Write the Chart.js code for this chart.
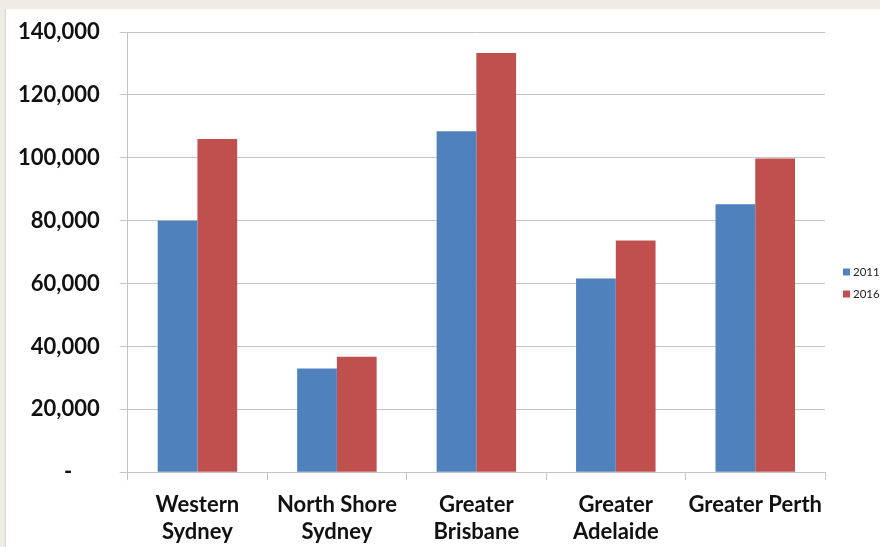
<!DOCTYPE html>
<html lang="en">

<head>
    <meta charset="UTF-8">
    <title>Population 2011 vs 2016</title>
    <style>
        body {
            margin: 0;
            padding: 0;
            width: 880px;
            height: 547px;
            background-color: #eeece4;
            overflow: hidden;
        }

        .chart-box {
            position: absolute;
            left: 5px;
            top: 9px;
            width: 875px;
            height: 538px;
            background-color: #ffffff;
            border-left: 1px solid #d6d4cc;
            box-sizing: border-box;
        }
    </style>
</head>

<body>
    <div class="chart-box">
        <canvas id="chart"></canvas>
    </div>

    <script src="https://cdn.jsdelivr.net/npm/chart.js"></script>
    <script>
        // Regions and counts per census year
        const regioes = [
            ['Western', 'Sydney'],
            ['North Shore', 'Sydney'],
            ['Greater', 'Brisbane'],
            ['Greater', 'Adelaide'],
            'Greater Perth'
        ];
        const valores2011 = [80000, 33000, 108400, 61600, 85200];
        const valores2016 = [106000, 36700, 133300, 73700, 99800];

        const fonteEixo = { family: 'Lato', size: 22, weight: 'bold', lineHeight: 1.2 };

        // Small legend drawn to the right of the plot area
        const legendaLateral = {
            id: 'legendaLateral',
            afterDraw(chart) {
                const ctx = chart.ctx;
                const area = chart.chartArea;
                const x = area.right + 18;
                const meio = chart.height / 2 + 5;
                ctx.save();
                ctx.font = '11.5px Lato';
                ctx.textBaseline = 'middle';
                chart.data.datasets.forEach((ds, i) => {
                    const y = meio + (i - 0.5) * 22;
                    ctx.fillStyle = ds.backgroundColor;
                    ctx.fillRect(x, y - 3.5, 7, 7);
                    ctx.fillStyle = '#222';
                    ctx.fillText(ds.label, x + 10, y);
                });
                ctx.restore();
            }
        };

        new Chart(document.getElementById('chart'), {
            type: 'bar',
            data: {
                labels: regioes,
                datasets: [{
                    label: '2011',
                    data: valores2011,
                    backgroundColor: '#4f81bd',
                    categoryPercentage: 0.57,
                    barPercentage: 1
                }, {
                    label: '2016',
                    data: valores2016,
                    backgroundColor: '#c0504d',
                    categoryPercentage: 0.57,
                    barPercentage: 1
                }]
            },
            plugins: [legendaLateral],
            options: {
                responsive: true,
                maintainAspectRatio: false,
                animation: false,
                layout: {
                    padding: { left: -8, top: 23, bottom: -10, right: 55 }
                },
                plugins: {
                    tooltip: { enabled: false },
                    legend: { display: false }
                },
                scales: {
                    x: {
                        grid: {
                            drawOnChartArea: false,
                            drawTicks: true,
                            tickLength: 8,
                            color: '#c4c4c4'
                        },
                        border: { color: '#c4c4c4' },
                        ticks: {
                            color: '#111',
                            padding: 12,
                            maxRotation: 0,
                            autoSkip: false,
                            font: fonteEixo
                        }
                    },
                    y: {
                        min: 0,
                        max: 140000,
                        grid: {
                            color: '#c4c4c4',
                            tickLength: 8
                        },
                        border: { color: '#c4c4c4' },
                        ticks: {
                            stepSize: 20000,
                            color: '#111',
                            padding: 20,
                            font: fonteEixo,
                            callback: v => v === 0 ? '-\u2003\u2002' : v.toLocaleString('en-US')
                        },
                        // tick padding only needed sideways, not above/below the axis
                        afterFit: s => {
                            s.paddingTop = 13;
                            s.paddingBottom = 13;
                        }
                    }
                }
            }
        });
    </script>
</body>

</html>
